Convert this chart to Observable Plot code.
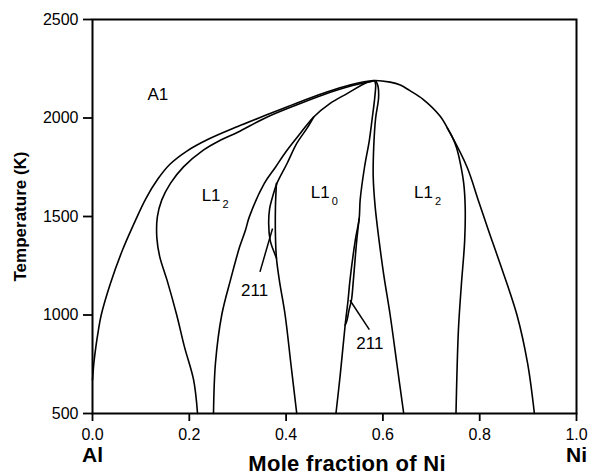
<!DOCTYPE html>
<html><head><meta charset="utf-8">
<script src="https://cdn.jsdelivr.net/npm/d3@7"></script>
<script src="https://cdn.jsdelivr.net/npm/@observablehq/plot@0.6"></script>
<style>body{margin:0;background:#fff}</style>
</head><body><div id="chart"></div>
<script>
// Axis ticks
const xTicks = [0, 0.2, 0.4, 0.6, 0.8, 1.0];
const yTicks = [500, 1000, 1500, 2000, 2500];

// Phase boundaries: [mole fraction Ni, temperature K]
const a1Boundary = [[0,670],[0.003,760],[0.007,840],[0.012,920],[0.018,1000],[0.037,1160],[0.062,1330],[0.085,1460],[0.11,1590],[0.135,1690],[0.16,1765],[0.195,1832],[0.24,1893],[0.30,1957],[0.36,2016],[0.42,2074],[0.48,2128],[0.53,2166],[0.58,2190],[0.615,2182],[0.636,2167],[0.655,2140],[0.683,2095],[0.718,2010],[0.739,1923],[0.774,1750],[0.797,1583],[0.818,1430],[0.842,1261],[0.877,1000],[0.899,754],[0.913,500]];
const l12LeftA = [[0.217,500],[0.209,669],[0.190,838],[0.174,1000],[0.154,1177],[0.139,1295],[0.133,1390],[0.134,1498],[0.143,1583],[0.161,1668],[0.188,1752],[0.229,1837],[0.264,1887],[0.30,1928],[0.36,2004],[0.42,2065],[0.48,2121],[0.53,2160],[0.58,2188]];
const l12LeftB = [[0.25,500],[0.254,754],[0.267,1000],[0.285,1177],[0.304,1346],[0.316,1430],[0.324,1498],[0.355,1668],[0.378,1750],[0.40,1830],[0.429,1921],[0.457,2005],[0.491,2074],[0.526,2124],[0.567,2180],[0.58,2188]];
const l10LeftLower = [[0.422,500],[0.41,750],[0.398,1000],[0.386,1177],[0.380,1290],[0.378,1400],[0.378,1550],[0.380,1668]];
const l10LeftUpper = [[0.380,1290],[0.372,1340],[0.367,1380],[0.364,1466],[0.366,1540],[0.373,1608],[0.381,1668],[0.402,1769],[0.422,1871],[0.443,1947],[0.457,2005]];
const l10Right = [[0.503,500],[0.512,700],[0.522,948],[0.528,1075],[0.532,1177],[0.543,1380],[0.551,1490],[0.553,1583],[0.562,1750],[0.572,1887],[0.578,2000],[0.583,2100],[0.585,2170],[0.583,2188]];
const phase211Right = [[0.522,948],[0.526,975],[0.530,1025],[0.535,1075],[0.539,1177],[0.546,1380],[0.551,1490]];
const l12RightA = [[0.643,500],[0.629,750],[0.615,1000],[0.602,1200],[0.592,1380],[0.584,1550],[0.580,1700],[0.581,1850],[0.585,2000],[0.591,2100],[0.590,2160],[0.586,2186]];
const l12RightB = [[0.751,500],[0.756,923],[0.762,1150],[0.769,1380],[0.770,1550],[0.767,1668],[0.760,1770],[0.752,1850],[0.743,1905],[0.733,1950]];

const curves = [
  ["a1", a1Boundary], ["l12La", l12LeftA], ["l12Lb", l12LeftB],
  ["l10Llo", l10LeftLower], ["l10Lup", l10LeftUpper], ["l10R", l10Right],
  ["p211", phase211Right], ["l12Ra", l12RightA], ["l12Rb", l12RightB]
];
const rows = curves.flatMap(([id, pts]) => pts.map(([x, T]) => ({id, x, T})));

// Region labels
const regionLabels = [
  {text: "A1", sub: "", x: 0.135, T: 2121},
  {text: "L1", sub: "2", x: 0.245, T: 1608},
  {text: "L1", sub: "0", x: 0.4705, T: 1624},
  {text: "L1", sub: "2", x: 0.684, T: 1624}
];
const labels211 = [{text: "211", x: 0.335, T: 1126}, {text: "211", x: 0.573, T: 853}];
const leaders = [{x1: 0.346, T1: 1219, x2: 0.372, T2: 1439}, {x1: 0.532, T1: 1075, x2: 0.572, T2: 926}];
const endLabels = [{text: "Al", x: 0}, {text: "Ni", x: 1}];
const xTitle = ["Mole fraction of Ni"];
const yTitle = ["Temperature (K)"];

const font = "Liberation Sans, Arial, Helvetica, sans-serif";

const chart = Plot.plot({
  width: 590, height: 474,
  marginLeft: 92, marginRight: 14, marginTop: 19, marginBottom: 61,
  style: {fontFamily: font, fontSize: "16px", background: "#fff", color: "#000"},
  x: {domain: [0, 1]},
  y: {domain: [500, 2500]},
  marks: [
    Plot.axisX({ticks: xTicks, tickFormat: d3.format(".1f"), tickSize: 8, tickPadding: 7, label: null, fontSize: 16, strokeWidth: 1.8}),
    Plot.axisY({ticks: yTicks, tickFormat: d => String(d), tickSize: 9, tickPadding: 5, label: null, fontSize: 16, strokeWidth: 1.8}),
    Plot.line(rows, {x: "x", y: "T", z: "id", curve: "catmull-rom", stroke: "#000", strokeWidth: 1.6}),
    Plot.link(leaders, {x1: "x1", y1: "T1", x2: "x2", y2: "T2", stroke: "#000", strokeWidth: 1.5}),
    Plot.text(regionLabels, {x: "x", y: "T", text: "text", fontSize: 17, textAnchor: "middle", fill: "#000"}),
    Plot.text(regionLabels, {x: "x", y: "T", text: "sub", fontSize: 11, dx: 14.5, dy: 9, textAnchor: "middle", fill: "#000"}),
    Plot.text(labels211, {x: "x", y: "T", text: "text", fontSize: 17, textAnchor: "middle", fill: "#000"}),
    Plot.text(endLabels, {x: "x", text: "text", frameAnchor: "bottom", textAnchor: "middle", lineAnchor: "bottom", dy: 48, fontSize: 21, fontWeight: "bold", fill: "#000"}),
    Plot.text(xTitle, {x: () => 0.526, text: d => d, frameAnchor: "bottom", textAnchor: "middle", lineAnchor: "bottom", dy: 57, fontSize: 22, fontWeight: "bold", fill: "#000"}),
    Plot.text(yTitle, {text: d => d, frameAnchor: "left", textAnchor: "middle", rotate: -90, dx: -72, fontSize: 17, fontWeight: "bold", fill: "#000"}),
    Plot.frame({stroke: "#000", strokeWidth: 2})
  ]
});
d3.select(chart).selectAll("text").filter(function() { return this.textContent === xTitle[0]; }).style("letter-spacing", "0.3px");
document.getElementById("chart").appendChild(chart);
</script>
</body></html>
